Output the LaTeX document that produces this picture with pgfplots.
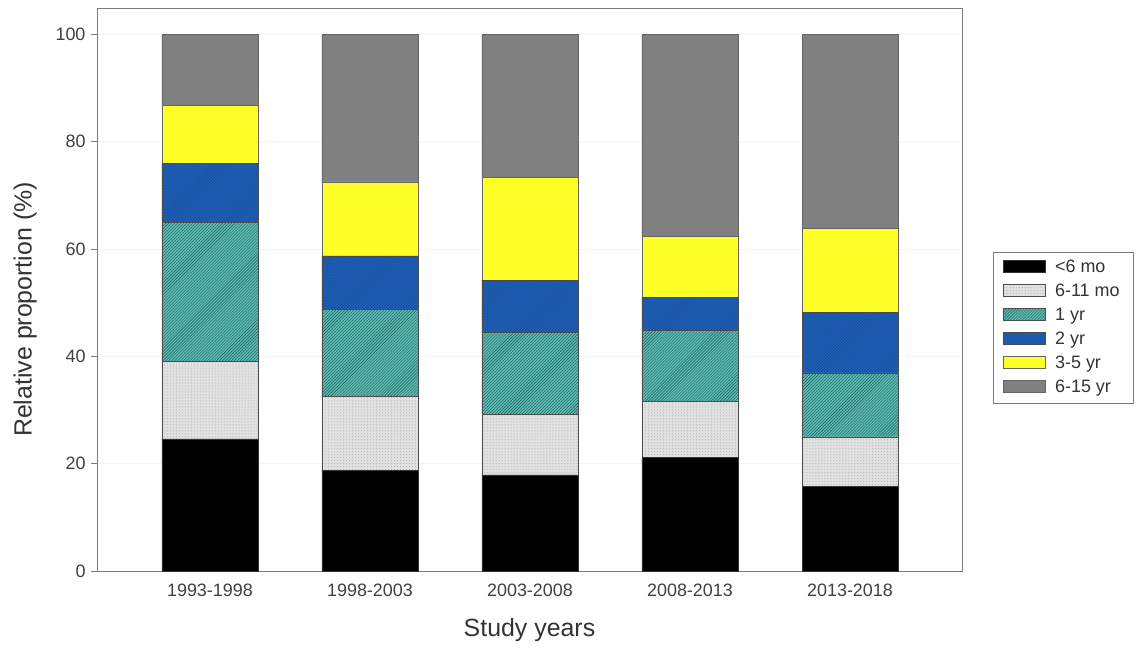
\documentclass[border=0pt]{standalone}
\usepackage{pgfplots}
\pgfplotsset{compat=1.18}
\usepackage{fontspec}
\setmainfont{Liberation Sans}
\usetikzlibrary{patterns}
\definecolor{cteal}{RGB}{90,190,180}
\definecolor{ctealline}{RGB}{40,90,90}
\definecolor{cblue}{RGB}{30,95,185}
\definecolor{cyel}{RGB}{255,255,40}
\definecolor{cgray}{RGB}{128,128,128}
\definecolor{cdot}{RGB}{225,225,225}
\definecolor{axgray}{RGB}{125,125,125}
\pgfplotstableread{
x a b c d e f
0 24.6 14.4 26.0 11.0 10.8 13.2
1 18.8 13.7 16.3 9.9 13.8 27.5
2 17.9 11.3 15.3 9.7 19.2 26.6
3 21.1 10.5 13.3 6.1 11.3 37.7
4 15.8 9.2 11.9 11.3 15.6 36.2
}\datatable
\begin{document}
\begin{tikzpicture}
\path[use as bounding box] (-97bp,-81bp) rectangle (1043bp,571bp);
\begin{axis}[
  at={(0,0)}, anchor=south west,
  scale only axis,
  width=865bp, height=563bp,
  ybar stacked, bar width=96bp,
  xmin=-0.706, xmax=4.7,
  ymin=0, ymax=104.9,
  xtick=data,
  xticklabels={1993-1998,1998-2003,2003-2008,2008-2013,2013-2018},
  ytick={0,20,40,60,80,100},
  ytick pos=left,
  major x tick style={draw=none},
  ytick style={axgray, line width=0.8pt},
  tick align=outside, major tick length=6bp,
  axis line style={axgray, line width=0.9pt},
  ymajorgrids, grid style={gray!8, line width=0.6pt},
  tick label style={font=\fontsize{18}{21}\selectfont, text=black!75},
  /pgf/number format/assume math mode=true,
  xticklabel style={yshift=-3bp},
  yticklabel style={xshift=-2bp},
  xlabel={Study years},
  ylabel={Relative proportion (\%)},
  label style={font=\fontsize{25}{29}\selectfont, text=black!80},
  xlabel style={yshift=-15bp},
  ylabel style={yshift=12bp, xshift=-20bp},
  legend style={at={(1.036,0.567)}, anchor=north west,
    font=\fontsize{18}{21}\selectfont, draw=axgray, line width=0.8pt,
    inner xsep=9bp, inner ysep=6bp, row sep=5bp, text=black!80,
    nodes={inner xsep=5bp, inner ysep=1bp, text height=13bp, text depth=4bp}},
  legend cell align=left,
  legend image code/.code={\draw[#1, line width=0.6pt] (0bp,-5bp) rectangle (42bp,7bp);},
  every axis plot/.append style={draw=black!70, line width=0.6pt},
]
\addplot[fill=black, draw=black!80] table[x=x,y=a]{\datatable};
\addplot[fill=cdot, postaction={pattern=dots, pattern color=gray!70}] table[x=x,y=b]{\datatable};
\addplot[fill=cteal, postaction={pattern=north east lines, pattern color=ctealline}] table[x=x,y=c]{\datatable};
\addplot[fill=cblue, postaction={pattern=north east lines, pattern color=cblue!80!black}] table[x=x,y=d]{\datatable};
\addplot[fill=cyel, draw=black!60] table[x=x,y=e]{\datatable};
\addplot[fill=cgray, draw=black!60] table[x=x,y=f]{\datatable};
\legend{\hspace{5bp}<6 mo,\hspace{5bp}6-11 mo,\hspace{5bp}1 yr,\hspace{5bp}2 yr,\hspace{5bp}3-5 yr,\hspace{5bp}6-15 yr}
\end{axis}
\end{tikzpicture}
\end{document}
